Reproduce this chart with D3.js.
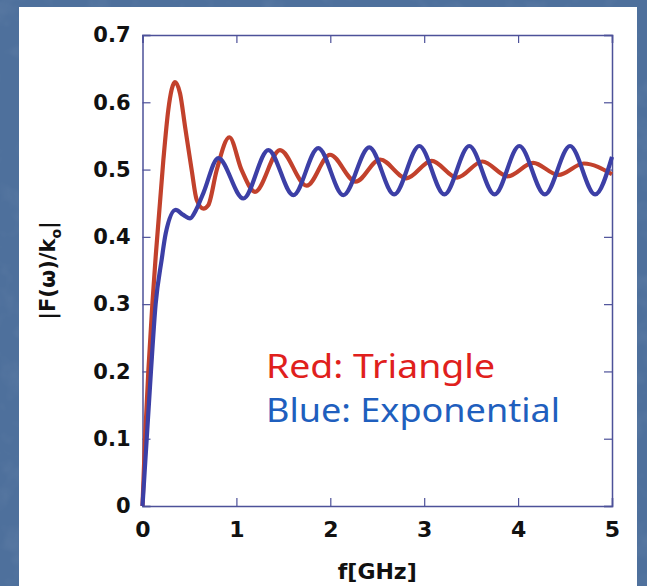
<!DOCTYPE html>
<html>
<head>
<meta charset="utf-8">
<script src="https://cdn.jsdelivr.net/npm/d3@7"></script>
<style>
    html, body { margin: 0; padding: 0; background: #4e709c; }
    svg { display: block; }
</style>
</head>
<body>
<svg id="chart" width="647" height="586"></svg>
<script>
// values: frequency [GHz] and |F(w)/k0|
let redF = [0, 0.027, 0.062, 0.105, 0.14, 0.222, 0.275, 0.346, 0.40, 0.453, 0.524, 0.577, 0.648, 0.70, 0.79, 0.925, 1.056, 1.198, 1.464, 1.749, 1.997, 2.27, 2.53, 2.81, 3.08, 3.35, 3.62, 3.89, 4.16, 4.43, 4.70, 5.0]
let redV = [0, 0.10, 0.20, 0.30, 0.37, 0.514, 0.589, 0.630, 0.613, 0.564, 0.499, 0.455, 0.442, 0.447, 0.499, 0.548, 0.499, 0.467, 0.529, 0.476, 0.522, 0.482, 0.515, 0.487, 0.513, 0.488, 0.512, 0.490, 0.510, 0.492, 0.509, 0.493]
let blueF = [0, 0.045, 0.09, 0.14, 0.204, 0.247, 0.354, 0.43, 0.506, 0.57, 0.648, 0.807, 1.074, 1.34, 1.606, 1.872, 2.139, 2.415, 2.68, 2.948, 3.215, 3.48, 3.75, 4.013, 4.285, 4.553, 4.82, 5.0]
let blueV = [0, 0.10, 0.20, 0.30, 0.366, 0.405, 0.440, 0.433, 0.4275, 0.44, 0.465, 0.517, 0.457, 0.529, 0.462, 0.532, 0.462, 0.533, 0.463, 0.535, 0.463, 0.535, 0.463, 0.535, 0.463, 0.535, 0.463, 0.519]
let xTicks = [0, 1, 2, 3, 4, 5]
let yTicks = [0, 0.1, 0.2, 0.3, 0.4, 0.5, 0.6, 0.7]
let legendText = ["Red: Triangle", "Blue: Exponential"]

let svg = d3.select("#chart")
let pLeft = 142.5, pRight = 612, pTop = 35, pBottom = 506
let axisColor = "#4d5199"

// slide background with a little texture
let defs = svg.append("defs")
let filter = defs.append("filter").attr("id", "grain")
filter.append("feTurbulence")
    .attr("type", "fractalNoise")
    .attr("baseFrequency", 0.035)
    .attr("numOctaves", 3)
    .attr("seed", 4)
filter.append("feColorMatrix")
    .attr("values", "0 0 0 0 1  0 0 0 0 1  0 0 0 0 1  0.6 0 0 0 -0.3")
svg.append("rect").attr("width", 647).attr("height", 586).attr("fill", "#4e709c")
svg.append("rect").attr("width", 647).attr("height", 586).attr("filter", "url(#grain)").attr("opacity", 0.25)

// white panel
svg.append("rect")
    .attr("x", 19).attr("y", 7)
    .attr("width", 618).attr("height", 579)
    .attr("fill", "#ffffff")

let x = d3.scaleLinear().domain([0, 5]).range([pLeft, pRight])
let y = d3.scaleLinear().domain([0, 0.7]).range([pBottom, pTop])

// ticks on all four sides, pointing in
let xAxisG = svg.append("g").attr("transform", `translate(0,${pBottom})`)
    .call(d3.axisBottom(x).tickValues(xTicks).tickSize(-8).tickPadding(15).tickFormat(d3.format("d")))
svg.append("g").attr("transform", `translate(0,${pTop})`)
    .call(d3.axisTop(x).tickValues(xTicks).tickSize(-8).tickFormat(""))
svg.append("g").attr("transform", `translate(${pLeft},0)`)
    .call(d3.axisLeft(y).tickValues(yTicks).tickSize(-8).tickPadding(12).tickFormat(d => d === 0 ? "0" : d3.format(".1f")(d)))
svg.append("g").attr("transform", `translate(${pRight},0)`)
    .call(d3.axisRight(y).tickValues(yTicks).tickSize(-8).tickFormat(""))

svg.selectAll(".domain").attr("stroke", axisColor).attr("stroke-width", 1.5)
svg.selectAll(".tick line").attr("stroke", axisColor).attr("stroke-width", 1.2)
svg.selectAll(".tick text")
    .attr("fill", "#111")
    .style("font-family", "'DejaVu Sans', sans-serif")
    .style("font-weight", "bold")
    .style("font-size", "21px")
xAxisG.selectAll(".tick text").style("font-size", "22px")

// series
let line = d3.line()
    .x(d => x(d[0]))
    .y(d => y(d[1]))
    .curve(d3.curveMonotoneX)

svg.append("path")
    .datum(redF.map((f, i) => [f, redV[i]]))
    .attr("d", line)
    .attr("fill", "none")
    .attr("stroke", "#c2412c")
    .attr("stroke-width", 4.2)
    .attr("stroke-linejoin", "round")

svg.append("path")
    .datum(blueF.map((f, i) => [f, blueV[i]]))
    .attr("d", line)
    .attr("fill", "none")
    .attr("stroke", "#3c3fa6")
    .attr("stroke-width", 4.2)
    .attr("stroke-linejoin", "round")

// axis titles
svg.append("text")
    .attr("x", (pLeft + pRight) / 2)
    .attr("y", 579)
    .attr("text-anchor", "middle")
    .attr("fill", "#111")
    .style("font-family", "'DejaVu Sans', sans-serif")
    .style("font-weight", "bold")
    .style("font-size", "22px")
    .text("f[GHz]")

let yTitle = svg.append("text")
    .attr("transform", `translate(55,${(pTop + pBottom) / 2}) rotate(-90)`)
    .attr("text-anchor", "middle")
    .attr("fill", "#111")
    .style("font-family", "'DejaVu Sans', sans-serif")
    .style("font-weight", "bold")
    .style("font-size", "21px")
yTitle.append("tspan").text("|F(ω)/k")
yTitle.append("tspan").attr("dy", 6).style("font-size", "14px").text("o")
yTitle.append("tspan").attr("dy", -6).text("|")

// legend
svg.selectAll(".legend")
    .data(legendText)
    .enter()
    .append("text")
    .attr("class", "legend")
    .attr("x", 266)
    .attr("y", (d, i) => 378 + i * 44)
    .attr("textLength", (d, i) => i === 0 ? 229 : 294)
    .attr("lengthAdjust", "spacingAndGlyphs")
    .attr("fill", (d, i) => i === 0 ? "#e0201c" : "#1f5fbe")
    .style("font-family", "'Comic Sans MS', 'Noto Sans', sans-serif")
    .style("font-size", "32px")
    .text(d => d)
</script>
</body>
</html>
